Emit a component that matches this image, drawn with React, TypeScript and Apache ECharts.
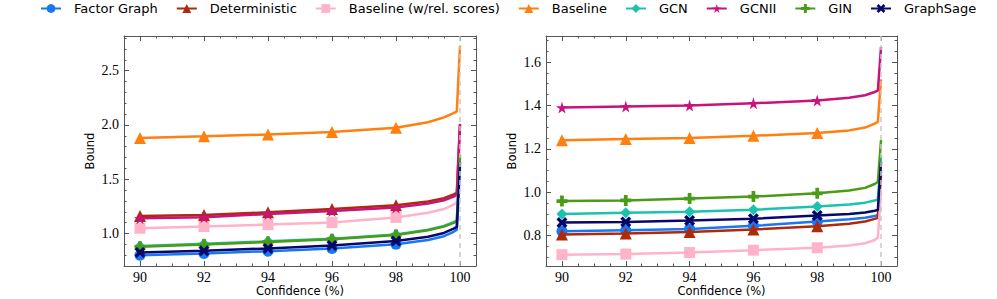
import React, { useEffect, useRef } from 'react';
import * as echarts from 'echarts';

// ---------- data ----------
const CONFIDENCE = [90, 92, 94, 96, 98, 99, 99.5, 99.8, 99.9, 100];
const MARKED_POINTS = 5; // markers on 90..98

const SERIES_NAMES = [
  'Factor Graph',
  'Deterministic',
  'Baseline (w/rel. scores)',
  'Baseline',
  'GCN',
  'GCNII',
  'GIN',
  'GraphSage',
];

// left panel
const L_FACTOR = [0.8, 0.815, 0.837, 0.862, 0.9, 0.94, 0.975, 1.015, 1.035, 1.62];
const L_DETERM = [1.16, 1.17, 1.195, 1.225, 1.26, 1.295, 1.325, 1.36, 1.375, 2.0];
const L_BASEREL = [1.048, 1.063, 1.082, 1.1, 1.148, 1.19, 1.225, 1.265, 1.285, 1.88];
const L_BASE = [1.88, 1.895, 1.912, 1.935, 1.975, 2.025, 2.07, 2.11, 2.125, 2.73];
const L_GCN = [0.885, 0.905, 0.927, 0.952, 0.99, 1.035, 1.07, 1.105, 1.12, 1.7];
const L_GCNII = [1.14, 1.15, 1.18, 1.206, 1.24, 1.275, 1.305, 1.34, 1.355, 2.01];
const L_GIN = [0.877, 0.898, 0.922, 0.947, 0.985, 1.03, 1.063, 1.098, 1.11, 1.725];
const L_SAGE = [0.825, 0.84, 0.862, 0.89, 0.93, 0.97, 1.005, 1.045, 1.06, 1.66];

// right panel
const R_FACTOR = [0.82, 0.825, 0.83, 0.845, 0.865, 0.875, 0.882, 0.89, 0.895, 1.1];
const R_DETERM = [0.805, 0.81, 0.817, 0.828, 0.843, 0.855, 0.865, 0.877, 0.882, 1.08];
const R_BASEREL = [0.712, 0.715, 0.722, 0.733, 0.744, 0.755, 0.765, 0.78, 0.79, 1.0];
const R_BASE = [1.24, 1.245, 1.25, 1.26, 1.273, 1.285, 1.298, 1.316, 1.324, 1.52];
const R_GCN = [0.9, 0.905, 0.91, 0.919, 0.934, 0.943, 0.952, 0.962, 0.966, 1.17];
const R_GCNII = [1.39, 1.395, 1.4, 1.41, 1.423, 1.435, 1.447, 1.462, 1.468, 1.67];
const R_GIN = [0.959, 0.962, 0.971, 0.98, 0.995, 1.008, 1.02, 1.038, 1.047, 1.24];
const R_SAGE = [0.86, 0.863, 0.87, 0.878, 0.893, 0.9, 0.907, 0.915, 0.918, 1.14];

const LEFT_VALUES = [L_FACTOR, L_DETERM, L_BASEREL, L_BASE, L_GCN, L_GCNII, L_GIN, L_SAGE];
const RIGHT_VALUES = [R_FACTOR, R_DETERM, R_BASEREL, R_BASE, R_GCN, R_GCNII, R_GIN, R_SAGE];

// tick values
const X_MAJOR = [90, 92, 94, 96, 98, 100];
const X_MINOR = [89.5, 90.5, 91, 91.5, 92.5, 93, 93.5, 94.5, 95, 95.5, 96.5, 97, 97.5, 98.5, 99, 99.5, 100.5];
const L_Y_MAJOR = [1.0, 1.5, 2.0, 2.5];
const L_Y_MINOR = [0.7, 0.8, 0.9, 1.1, 1.2, 1.3, 1.4, 1.6, 1.7, 1.8, 1.9, 2.1, 2.2, 2.3, 2.4, 2.6, 2.7, 2.8];
const R_Y_MAJOR = [0.8, 1.0, 1.2, 1.4, 1.6];
const R_Y_MINOR = [0.7, 0.75, 0.85, 0.9, 0.95, 1.05, 1.1, 1.15, 1.25, 1.3, 1.35, 1.45, 1.5, 1.55, 1.65, 1.7];

// ---------- style ----------
const COLORS = ['#1877F5', '#AE2A0B', '#FFB3C9', '#FF7F0F', '#1BC2AE', '#C8127C', '#4A9B17', '#08086B'];
const STAR = 'path://M50,0 L61,35 L98,35 L68,57 L79,91 L50,70 L21,91 L32,57 L2,35 L39,35 Z';
const PLUS = 'path://M33,0 H67 V33 H100 V67 H67 V100 H33 V67 H0 V33 H33 Z';
const XMARK = 'path://M22,0 L50,28 L78,0 L100,22 L72,50 L100,78 L78,100 L50,72 L22,100 L0,78 L28,50 L0,22 Z';
const SYMBOLS = ['circle', 'triangle', 'rect', 'triangle', 'diamond', STAR, PLUS, XMARK];
const SYMBOL_SIZES = [11, 12, 11, 12, 11, 12, 11, 11];

const AXIS_COLOR = '#555';
const TICK_FONT = 'Liberation Serif';
const SANS = 'DejaVu Sans';

function xAxes(gridIndex: number) {
  const base = {
    type: 'value',
    gridIndex,
    min: 89.5,
    max: 100.5,
    splitLine: { show: false },
  };
  const tickStyle = { color: AXIS_COLOR, width: 1 };
  return [
    {
      ...base,
      position: 'bottom',
      axisLine: { show: true, onZero: false, lineStyle: { color: AXIS_COLOR, width: 1 } },
      axisTick: { show: true, inside: true, length: 5, customValues: X_MAJOR, lineStyle: tickStyle },
      axisLabel: { show: true, customValues: X_MAJOR, margin: 4, color: '#000', fontFamily: TICK_FONT, fontSize: 14 },
      name: 'Confidence (%)',
      nameLocation: 'middle',
      nameGap: 19,
      nameMoveOverlap: false,
      nameTextStyle: { fontFamily: SANS, fontSize: 11.5, color: '#000' },
    },
    {
      ...base,
      position: 'bottom',
      axisLine: { show: false, onZero: false },
      axisTick: { show: true, inside: true, length: 2.5, customValues: X_MINOR, lineStyle: tickStyle },
      axisLabel: { show: false },
    },
    {
      ...base,
      position: 'top',
      axisLine: { show: true, onZero: false, lineStyle: { color: AXIS_COLOR, width: 1 } },
      axisTick: { show: true, inside: true, length: 5, customValues: X_MAJOR, lineStyle: tickStyle },
      axisLabel: { show: false },
    },
    {
      ...base,
      position: 'top',
      axisLine: { show: false, onZero: false },
      axisTick: { show: true, inside: true, length: 2.5, customValues: X_MINOR, lineStyle: tickStyle },
      axisLabel: { show: false },
    },
  ];
}

function yAxes(gridIndex: number, min: number, max: number, major: number[], minor: number[]) {
  const base = {
    type: 'value',
    gridIndex,
    min,
    max,
    splitLine: { show: false },
  };
  const tickStyle = { color: AXIS_COLOR, width: 1 };
  return [
    {
      ...base,
      position: 'left',
      axisLine: { show: true, onZero: false, lineStyle: { color: AXIS_COLOR, width: 1 } },
      axisTick: { show: true, inside: true, length: 5, customValues: major, lineStyle: tickStyle },
      axisLabel: {
        show: true,
        customValues: major,
        margin: 5,
        color: '#000',
        fontFamily: TICK_FONT,
        fontSize: 14,
        formatter: (v: number) => v.toFixed(1),
      },
      name: 'Bound',
      nameLocation: 'middle',
      nameGap: 28,
      nameRotate: 90,
      nameTextStyle: { fontFamily: SANS, fontSize: 11.5, color: '#000' },
    },
    {
      ...base,
      position: 'left',
      axisLine: { show: false, onZero: false },
      axisTick: { show: true, inside: true, length: 2.5, customValues: minor, lineStyle: tickStyle },
      axisLabel: { show: false },
    },
    {
      ...base,
      position: 'right',
      axisLine: { show: true, onZero: false, lineStyle: { color: AXIS_COLOR, width: 1 } },
      axisTick: { show: true, inside: true, length: 5, customValues: major, lineStyle: tickStyle },
      axisLabel: { show: false },
    },
    {
      ...base,
      position: 'right',
      axisLine: { show: false, onZero: false },
      axisTick: { show: true, inside: true, length: 2.5, customValues: minor, lineStyle: tickStyle },
      axisLabel: { show: false },
    },
  ];
}

function buildSeries(values: number[][], axisIndex: number) {
  const list: any[] = values.map((ys, i) => ({
    type: 'line',
    name: SERIES_NAMES[i],
    xAxisIndex: axisIndex,
    yAxisIndex: axisIndex,
    color: COLORS[i],
    symbol: SYMBOLS[i],
    symbolSize: SYMBOL_SIZES[i],
    lineStyle: { width: 2.5, color: COLORS[i] },
    itemStyle: { color: COLORS[i] },
    z: 2 + i,
    data: CONFIDENCE.map((x, k) =>
      k < MARKED_POINTS ? { value: [x, ys[k]] } : { value: [x, ys[k]], symbol: 'none' }
    ),
  }));
  list[list.length - 1].markLine = {
    silent: true,
    symbol: ['none', 'none'],
    label: { show: false },
    lineStyle: { color: '#c8c8c8', type: [5, 4], width: 1.5 },
    data: [{ xAxis: 100 }],
    z: 20,
  };
  return list;
}

export default function App() {
  const ref = useRef<HTMLDivElement>(null);
  useEffect(() => {
    const chart = echarts.init(ref.current!, null, { renderer: 'svg' });
    const option: any = {
      animation: false,
      backgroundColor: '#fff',
      legend: {
        data: SERIES_NAMES,
        left: 40,
        top: 2,
        padding: 0,
        itemWidth: 20,
        itemHeight: 11,
        itemGap: 18,
        textStyle: { fontFamily: SANS, fontSize: 13, color: '#000', padding: [0, 0, 0, 8] },
      },
      grid: [
        { left: 124, top: 36, width: 352, height: 230, containLabel: false, outerBoundsMode: 'none' },
        { left: 546, top: 36, width: 351, height: 230, containLabel: false, outerBoundsMode: 'none' },
      ],
      xAxis: [...xAxes(0), ...xAxes(1)],
      yAxis: [
        ...yAxes(0, 0.7, 2.82, L_Y_MAJOR, L_Y_MINOR),
        ...yAxes(1, 0.66, 1.72, R_Y_MAJOR, R_Y_MINOR),
      ],
      series: [...buildSeries(LEFT_VALUES, 0), ...buildSeries(RIGHT_VALUES, 4)],
    };
    chart.setOption(option);
    return () => chart.dispose();
  }, []);
  return (
    <div
      ref={ref}
      style={{ position: 'fixed', left: 0, top: 0, width: 997, height: 299 }}
    />
  );
}
